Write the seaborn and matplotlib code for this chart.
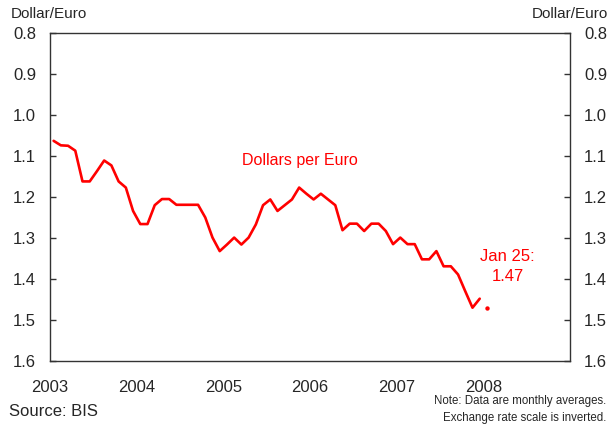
import numpy as np
import pandas as pd
import matplotlib
matplotlib.use("Agg")
import matplotlib.pyplot as plt
import seaborn as sns

# Monthly averages, dollars per euro, Jan 2003 - Dec 2007
rate_2003 = [1.063, 1.074, 1.075, 1.087, 1.162, 1.162, 1.137, 1.111, 1.123, 1.162, 1.177, 1.234]
rate_2004 = [1.266, 1.266, 1.220, 1.205, 1.205, 1.219, 1.219, 1.219, 1.219, 1.250, 1.299, 1.332]
rate_2005 = [1.316, 1.299, 1.316, 1.299, 1.267, 1.220, 1.206, 1.234, 1.220, 1.206, 1.177, 1.192]
rate_2006 = [1.206, 1.192, 1.206, 1.220, 1.281, 1.265, 1.265, 1.283, 1.265, 1.265, 1.283, 1.315]
rate_2007 = [1.299, 1.315, 1.315, 1.352, 1.352, 1.332, 1.369, 1.369, 1.389, 1.430, 1.470, 1.448]
start_year = 2003

# latest daily reading (Jan 25, 2008), shown as a dot in the January slot
latest_month = "2008-01"
latest_value = 1.47

year_ticks = [2003, 2004, 2005, 2006, 2007, 2008, 2009]
year_labels = ["2003", "2004", "2005", "2006", "2007", "2008", ""]
rate_ticks = [0.8, 0.9, 1.0, 1.1, 1.2, 1.3, 1.4, 1.5, 1.6]

values = rate_2003 + rate_2004 + rate_2005 + rate_2006 + rate_2007
months = pd.date_range(f"{start_year}-01-01", periods=len(values), freq="MS")
df = pd.DataFrame({"month": months, "rate": values})
# plot at mid-month, in decimal years
df["x"] = df["month"].dt.year + (df["month"].dt.month - 0.5) / 12

latest = pd.Timestamp(latest_month)
latest_x = latest.year + (latest.month - 0.5) / 12

sns.set_style("white")
plt.rcParams["font.family"] = ["Liberation Sans", "DejaVu Sans"]

fig = plt.figure(figsize=(6.1, 4.25), dpi=100)
W, H = 610, 425
ax = fig.add_axes([50 / W, 1 - 361 / H, 520 / W, (361 - 33) / H])

red = "#ff0000"
sns.lineplot(data=df, x="x", y="rate", ax=ax, color=red, linewidth=1.9)
ax.scatter([latest_x], [latest_value], color=red, s=10, zorder=3, linewidths=0)

ax.set_xlim(2003, 2009)
ax.set_ylim(1.6, 0.8)  # inverted scale
ax.set_xticks(year_ticks)
ax.set_xticklabels(year_labels)
ax.set_yticks(rate_ticks)
ax.set_yticklabels([f"{v:.1f}" for v in rate_ticks])
ax.set_xlabel("")
ax.set_ylabel("")

for s in ax.spines.values():
    s.set_visible(True)
    s.set_color("#333333")
    s.set_linewidth(1.0)

ax.tick_params(axis="x", direction="in", length=4, width=1, color="#333333",
               labelsize=12, pad=14, top=False)
ax.tick_params(axis="y", direction="in", length=4, width=1, color="#333333",
               labelsize=12, left=True, right=True, labelleft=True, labelright=True)
ax.tick_params(axis="y", which="major", pad=10)

ax.text(2005.88, 1.110, "Dollars per Euro", color=red, fontsize=11.5, ha="center", va="center")
ax.text(2008.28, 1.370, "Jan 25:\n1.47", color=red, fontsize=12, ha="center", va="center",
        linespacing=1.4)

fig.text(11 / W, 1 - 14 / H, "Dollar/Euro", fontsize=11, ha="left", va="center")
fig.text(608 / W, 1 - 14 / H, "Dollar/Euro", fontsize=11, ha="right", va="center")
fig.text(9 / W, 1 - 411 / H, "Source: BIS", fontsize=12, ha="left", va="center")
fig.text(606 / W, 1 - 401 / H, "Note: Data are monthly averages.", fontsize=8.3, ha="right", va="center")
fig.text(606 / W, 1 - 418 / H, "Exchange rate scale is inverted.", fontsize=8.3, ha="right", va="center")

fig.savefig("out.png", dpi=100)
